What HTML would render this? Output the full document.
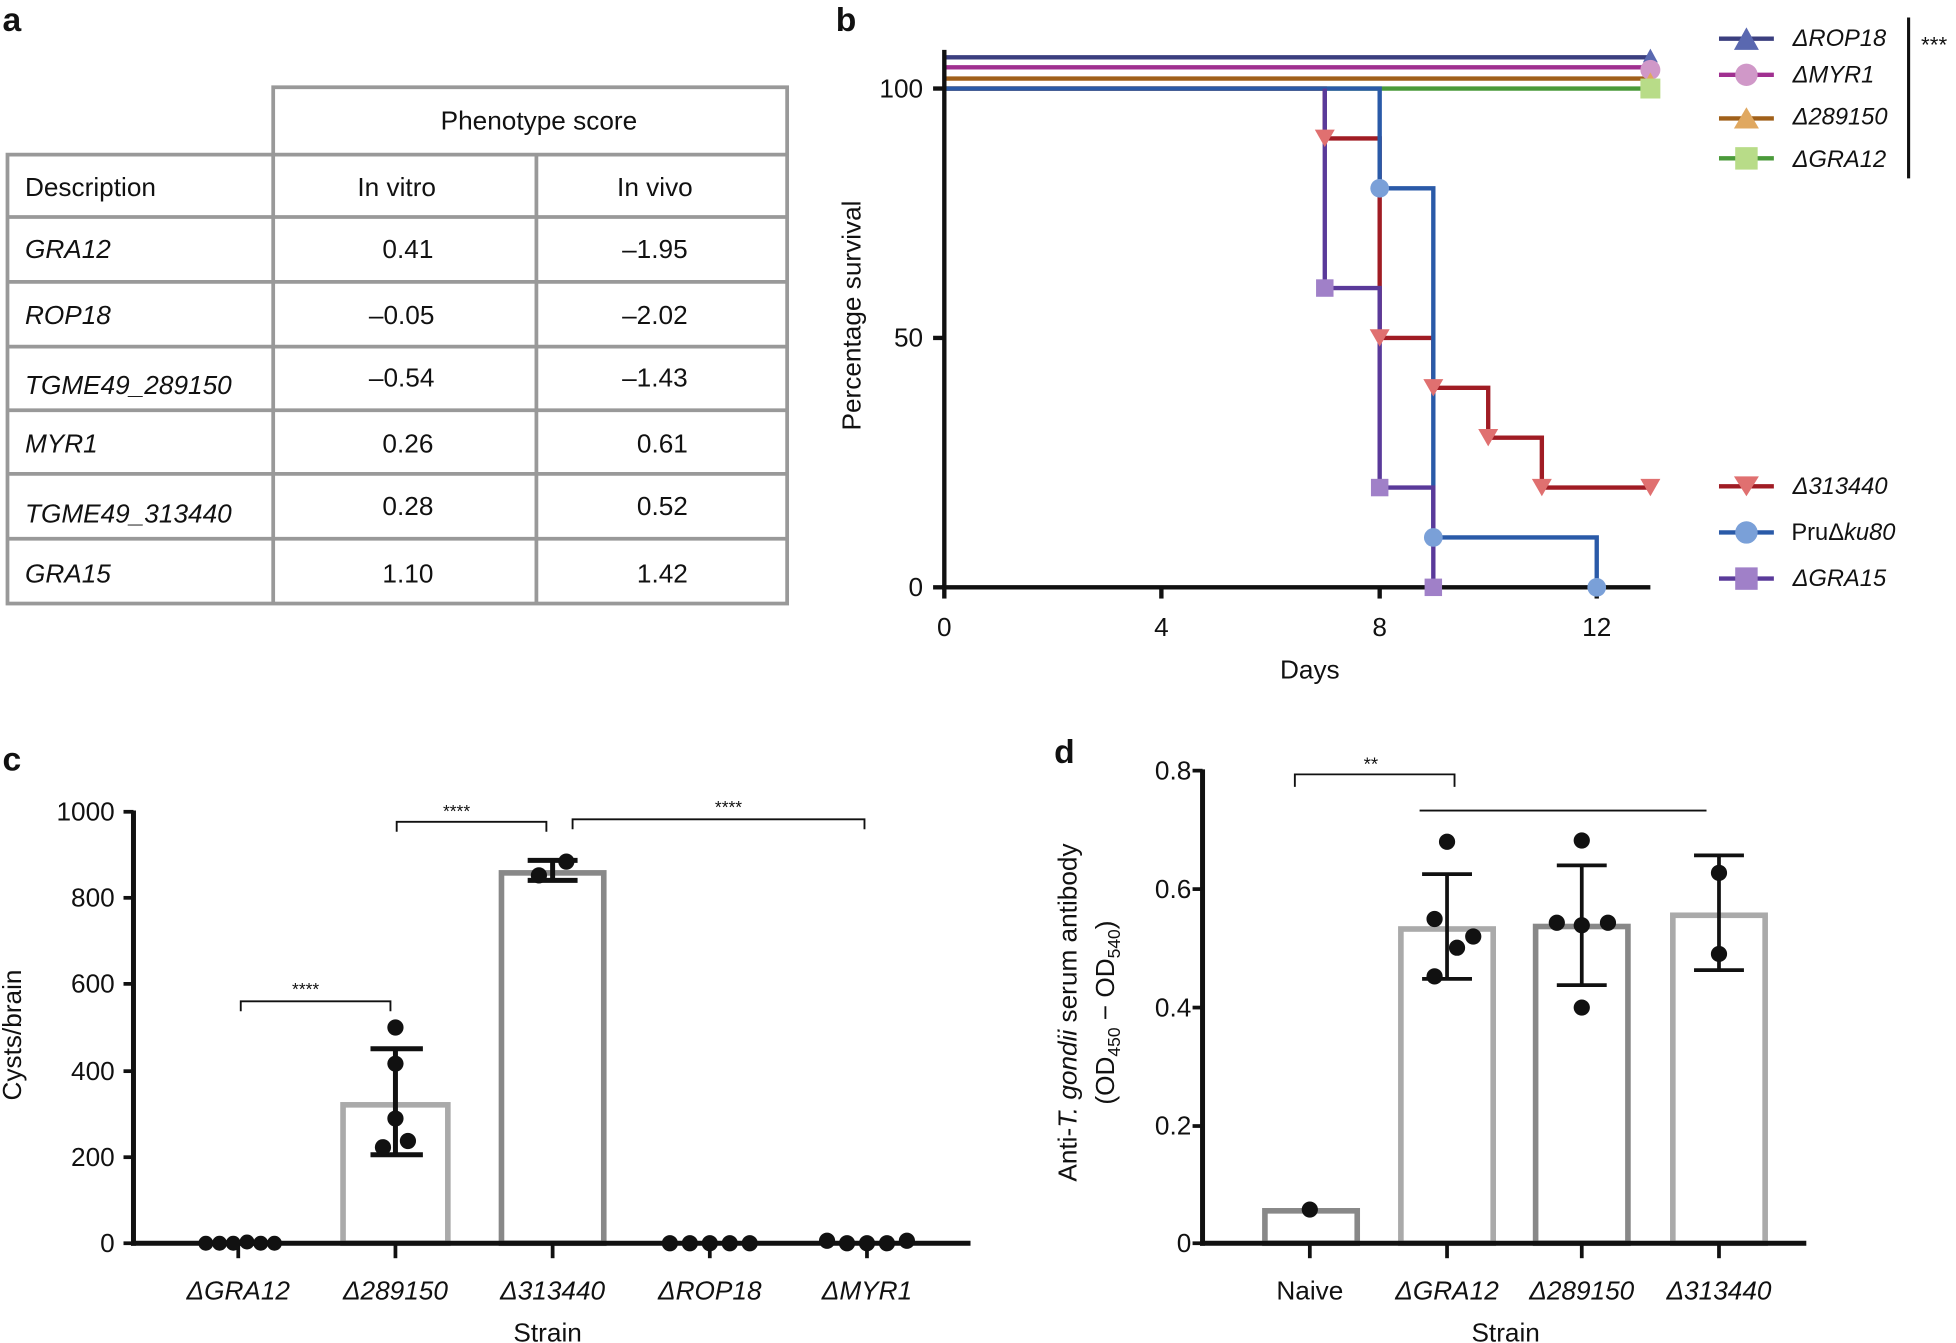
<!DOCTYPE html>
<html><head><meta charset="utf-8"><style>
html,body{margin:0;padding:0;background:#fff}
svg{display:block}
text{font-family:"Liberation Sans",sans-serif;fill:#111}
</style></head><body>
<svg width="1956" height="1343" viewBox="0 0 1568 1077" preserveAspectRatio="none" xmlns="http://www.w3.org/2000/svg">
<!-- panel labels -->
<g font-weight="bold" font-size="27">
<text x="2" y="25">a</text><text x="670" y="25">b</text><text x="2" y="618">c</text><text x="845" y="612">d</text>
</g>
<!-- Table a -->
<g stroke="#999" stroke-width="3" fill="none">
<rect x="6" y="124" width="625" height="360"/>
<polyline points="219,124 219,70 631,70 631,124"/>
<line x1="219" y1="124" x2="219" y2="484"/><line x1="430" y1="124" x2="430" y2="484"/>
<line x1="6" y1="174" x2="631" y2="174"/><line x1="6" y1="226" x2="631" y2="226"/>
<line x1="6" y1="278" x2="631" y2="278"/><line x1="6" y1="329" x2="631" y2="329"/>
<line x1="6" y1="380" x2="631" y2="380"/><line x1="6" y1="432" x2="631" y2="432"/>
</g>
<g font-size="21">
<text x="432" y="104" text-anchor="middle">Phenotype score</text>
<text x="20" y="157">Description</text><text x="318" y="157" text-anchor="middle">In vitro</text><text x="525" y="157" text-anchor="middle">In vivo</text>
<g font-style="italic"><text x="20" y="207">GRA12</text><text x="20" y="260">ROP18</text><text x="20" y="316">TGME49_289150</text><text x="20" y="363">MYR1</text><text x="20" y="419">TGME49_313440</text><text x="20" y="467">GRA15</text></g>
<g text-anchor="middle">
<text x="327" y="207">0.41</text><text x="525" y="207">–1.95</text>
<text x="322" y="260">–0.05</text><text x="525" y="260">–2.02</text>
<text x="322" y="310">–0.54</text><text x="525" y="310">–1.43</text>
<text x="327" y="363">0.26</text><text x="531" y="363">0.61</text>
<text x="327" y="413">0.28</text><text x="531" y="413">0.52</text>
<text x="327" y="467">1.10</text><text x="531" y="467">1.42</text>
</g></g>
<!-- Panel b -->
<g stroke-width="3.5" fill="none">
<line x1="757" y1="46" x2="1323" y2="46" stroke="#3b3f7f"/>
<line x1="757" y1="54" x2="1323" y2="54" stroke="#a03090"/>
<line x1="757" y1="63" x2="1323" y2="63" stroke="#a0601a"/>
<line x1="757" y1="71" x2="1323" y2="71" stroke="#4a9a3a"/>
<polyline stroke="#a01c24" points="757,71 1062,71 1062,111 1106,111 1106,271 1149,271 1149,311 1193,311 1193,351 1236,351 1236,391 1323,391"/>
<polyline stroke="#2a5aa8" points="757,71 1106,71 1106,151 1149,151 1149,431 1280,431 1280,471"/>
<polyline stroke="#5a3a9a" points="1062,71 1062,231 1106,231 1106,391 1149,391 1149,471"/>
</g>
<g stroke="#111" stroke-width="3.5"><line x1="757" y1="40" x2="757" y2="473"/><line x1="755" y1="471" x2="1323" y2="471"/>
<line x1="757" y1="471" x2="757" y2="480"/><line x1="931" y1="471" x2="931" y2="480"/><line x1="1106" y1="471" x2="1106" y2="480"/><line x1="1280" y1="471" x2="1280" y2="480"/>
<line x1="748" y1="71" x2="757" y2="71"/><line x1="748" y1="271" x2="757" y2="271"/><line x1="748" y1="471" x2="757" y2="471"/></g>
<!-- markers b -->
<g fill="#e07070"><path d="M1054,104h16l-8,14z"/><path d="M1098,264h16l-8,14z"/><path d="M1141,304h16l-8,14z"/><path d="M1185,344h16l-8,14z"/><path d="M1228,384h16l-8,14z"/><path d="M1315,384h16l-8,14z"/></g>
<g fill="#7aa0d8"><circle cx="1106" cy="151" r="7.5"/><circle cx="1149" cy="431" r="7.5"/><circle cx="1280" cy="471" r="7.5"/></g>
<g fill="#a080c8"><rect x="1055" y="224" width="14" height="14"/><rect x="1099" y="384" width="14" height="14"/><rect x="1142" y="464" width="14" height="14"/></g>
<path d="M1323,39l6,11h-12z" fill="#5a68b0"/><circle cx="1323" cy="56" r="8" fill="#d098c8"/><path d="M1323,58l6,11h-12z" fill="#e0a860"/><rect x="1315" y="63" width="16" height="16" fill="#b8dc88"/>
<g font-size="21"><text x="757" y="510" text-anchor="middle">0</text><text x="931" y="510" text-anchor="middle">4</text><text x="1106" y="510" text-anchor="middle">8</text><text x="1280" y="510" text-anchor="middle">12</text>
<text x="740" y="78" text-anchor="end">100</text><text x="740" y="278" text-anchor="end">50</text><text x="740" y="478" text-anchor="end">0</text>
<text x="1050" y="544" text-anchor="middle">Days</text>
<text transform="translate(690,253) rotate(-90)" text-anchor="middle">Percentage survival</text></g>
<!-- legend b -->
<g stroke-width="3.5"><line x1="1378" y1="31" x2="1422" y2="31" stroke="#3b3f7f"/><line x1="1378" y1="60" x2="1422" y2="60" stroke="#a03090"/><line x1="1378" y1="95" x2="1422" y2="95" stroke="#a0601a"/><line x1="1378" y1="127" x2="1422" y2="127" stroke="#4a9a3a"/>
<line x1="1378" y1="390" x2="1422" y2="390" stroke="#a01c24"/><line x1="1378" y1="427" x2="1422" y2="427" stroke="#2a5aa8"/><line x1="1378" y1="464" x2="1422" y2="464" stroke="#5a3a9a"/></g>
<path d="M1400,22l10,18h-20z" fill="#5a68b0"/><circle cx="1400" cy="60" r="9" fill="#d098c8"/><path d="M1400,86l10,17h-20z" fill="#e0a860"/><rect x="1391" y="118" width="18" height="18" fill="#b8dc88"/>
<path d="M1390,382h20l-10,16z" fill="#e07070"/><circle cx="1400" cy="427" r="9" fill="#7aa0d8"/><rect x="1391" y="455" width="18" height="18" fill="#a080c8"/>
<g font-size="19" font-style="italic"><text x="1437" y="37">ΔROP18</text><text x="1437" y="66">ΔMYR1</text><text x="1437" y="100">Δ289150</text><text x="1437" y="134">ΔGRA12</text><text x="1437" y="396">Δ313440</text><text x="1437" y="470">ΔGRA15</text>
<text x="1436" y="433"><tspan font-style="normal">PruΔ</tspan>ku80</text></g>
<line x1="1530" y1="14" x2="1530" y2="143" stroke="#111" stroke-width="2.5"/><text x="1540" y="42" font-size="18">***</text>
<!-- Panel c -->
<rect x="275" y="886" width="84" height="111" fill="none" stroke="#aaa" stroke-width="4.5"/>
<rect x="402" y="700" width="82" height="297" fill="none" stroke="#888" stroke-width="4.5"/>
<g stroke="#111" stroke-width="4"><line x1="107" y1="650" x2="107" y2="999"/><line x1="105" y1="997" x2="778" y2="997"/>
<g stroke-width="3"><line x1="99" y1="651" x2="107" y2="651"/><line x1="99" y1="720" x2="107" y2="720"/><line x1="99" y1="789" x2="107" y2="789"/><line x1="99" y1="859" x2="107" y2="859"/><line x1="99" y1="928" x2="107" y2="928"/><line x1="99" y1="997" x2="107" y2="997"/>
<line x1="191" y1="997" x2="191" y2="1009"/><line x1="317" y1="997" x2="317" y2="1009"/><line x1="443" y1="997" x2="443" y2="1009"/><line x1="569" y1="997" x2="569" y2="1009"/><line x1="695" y1="997" x2="695" y2="1009"/></g>
<line x1="317" y1="841" x2="317" y2="926"/><line x1="297" y1="841" x2="339" y2="841"/><line x1="297" y1="926" x2="339" y2="926"/>
<line x1="443" y1="690" x2="443" y2="706"/><line x1="423" y1="690" x2="463" y2="690"/><line x1="423" y1="706" x2="463" y2="706"/></g>
<g fill="#111"><circle cx="317" cy="824" r="6.5"/><circle cx="317" cy="853" r="6.5"/><circle cx="317" cy="897" r="6.5"/><circle cx="307" cy="920" r="6.5"/><circle cx="327" cy="915" r="6.5"/>
<circle cx="432" cy="702" r="6.5"/><circle cx="454" cy="691" r="6.5"/>
<circle cx="165" cy="997" r="6"/><circle cx="176" cy="997" r="6"/><circle cx="187" cy="997" r="6"/><circle cx="198" cy="996" r="6"/><circle cx="209" cy="997" r="6"/><circle cx="220" cy="997" r="6"/>
<circle cx="537" cy="997" r="6.5"/><circle cx="553" cy="997" r="6.5"/><circle cx="569" cy="997" r="6.5"/><circle cx="585" cy="997" r="6.5"/><circle cx="601" cy="997" r="6.5"/>
<circle cx="663" cy="995" r="6.5"/><circle cx="679" cy="997" r="6.5"/><circle cx="695" cy="997" r="6.5"/><circle cx="711" cy="997" r="6.5"/><circle cx="727" cy="995" r="6.5"/></g>
<g stroke="#111" stroke-width="1.5" fill="none"><polyline points="193,811 193,803 313,803 313,811"/><polyline points="318,667 318,659 438,659 438,667"/><polyline points="459,665 459,657 693,657 693,665"/></g>
<g font-size="14"><text x="245" y="798" text-anchor="middle">****</text><text x="366" y="655" text-anchor="middle">****</text><text x="584" y="652" text-anchor="middle">****</text></g>
<g font-size="21"><text x="92" y="658" text-anchor="end">1000</text><text x="92" y="727" text-anchor="end">800</text><text x="92" y="796" text-anchor="end">600</text><text x="92" y="866" text-anchor="end">400</text><text x="92" y="935" text-anchor="end">200</text><text x="92" y="1004" text-anchor="end">0</text>
<g font-style="italic" text-anchor="middle"><text x="191" y="1042">ΔGRA12</text><text x="317" y="1042">Δ289150</text><text x="443" y="1042">Δ313440</text><text x="569" y="1042">ΔROP18</text><text x="695" y="1042">ΔMYR1</text></g>
<text x="439" y="1076" text-anchor="middle">Strain</text>
<text transform="translate(17,830) rotate(-90)" text-anchor="middle">Cysts/brain</text></g>
<!-- Panel d -->
<rect x="1014" y="971" width="74" height="26" fill="none" stroke="#888" stroke-width="4.5"/>
<rect x="1123" y="745" width="74" height="252" fill="none" stroke="#aaa" stroke-width="4.5"/>
<rect x="1231" y="743" width="74" height="254" fill="none" stroke="#888" stroke-width="4.5"/>
<rect x="1341" y="734" width="74" height="263" fill="none" stroke="#aaa" stroke-width="4.5"/>
<g stroke="#111" stroke-width="4"><line x1="964" y1="617" x2="964" y2="999"/><line x1="962" y1="997" x2="1448" y2="997"/>
<g stroke-width="3"><line x1="956" y1="618" x2="964" y2="618"/><line x1="956" y1="713" x2="964" y2="713"/><line x1="956" y1="808" x2="964" y2="808"/><line x1="956" y1="903" x2="964" y2="903"/><line x1="956" y1="997" x2="964" y2="997"/>
<line x1="1050" y1="997" x2="1050" y2="1009"/><line x1="1160" y1="997" x2="1160" y2="1009"/><line x1="1268" y1="997" x2="1268" y2="1009"/><line x1="1378" y1="997" x2="1378" y2="1009"/>
<line x1="1160" y1="701" x2="1160" y2="785"/><line x1="1140" y1="701" x2="1180" y2="701"/><line x1="1140" y1="785" x2="1180" y2="785"/>
<line x1="1268" y1="694" x2="1268" y2="790"/><line x1="1248" y1="694" x2="1288" y2="694"/><line x1="1248" y1="790" x2="1288" y2="790"/>
<line x1="1378" y1="686" x2="1378" y2="778"/><line x1="1358" y1="686" x2="1398" y2="686"/><line x1="1358" y1="778" x2="1398" y2="778"/></g></g>
<g fill="#111"><circle cx="1050" cy="970" r="6.5"/>
<circle cx="1160" cy="675" r="6.5"/><circle cx="1150" cy="737" r="6.5"/><circle cx="1181" cy="751" r="6.5"/><circle cx="1168" cy="760" r="6.5"/><circle cx="1150" cy="783" r="6.5"/>
<circle cx="1268" cy="674" r="6.5"/><circle cx="1248" cy="740" r="6.5"/><circle cx="1268" cy="742" r="6.5"/><circle cx="1289" cy="740" r="6.5"/><circle cx="1268" cy="808" r="6.5"/>
<circle cx="1378" cy="700" r="6.5"/><circle cx="1378" cy="765" r="6.5"/></g>
<g stroke="#111" stroke-width="1.5" fill="none"><polyline points="1038,631 1038,621 1166,621 1166,631"/><line x1="1138" y1="650" x2="1368" y2="650"/></g>
<text x="1099" y="618" font-size="15" text-anchor="middle">**</text>
<g font-size="21"><text x="955" y="625" text-anchor="end">0.8</text><text x="955" y="720" text-anchor="end">0.6</text><text x="955" y="815" text-anchor="end">0.4</text><text x="955" y="910" text-anchor="end">0.2</text><text x="955" y="1004" text-anchor="end">0</text>
<text x="1050" y="1042" text-anchor="middle">Naive</text>
<g font-style="italic" text-anchor="middle"><text x="1160" y="1042">ΔGRA12</text><text x="1268" y="1042">Δ289150</text><text x="1378" y="1042">Δ313440</text></g>
<text x="1207" y="1076" text-anchor="middle">Strain</text>
<text transform="translate(863,812) rotate(-90)" text-anchor="middle">Anti-<tspan font-style="italic">T. gondii</tspan> serum antibody</text>
<text transform="translate(893,812) rotate(-90)" text-anchor="middle">(OD<tspan font-size="14" dy="5">450</tspan><tspan dy="-5"> − OD</tspan><tspan font-size="14" dy="5">540</tspan><tspan dy="-5">)</tspan></text></g>
</svg>
</body></html>
